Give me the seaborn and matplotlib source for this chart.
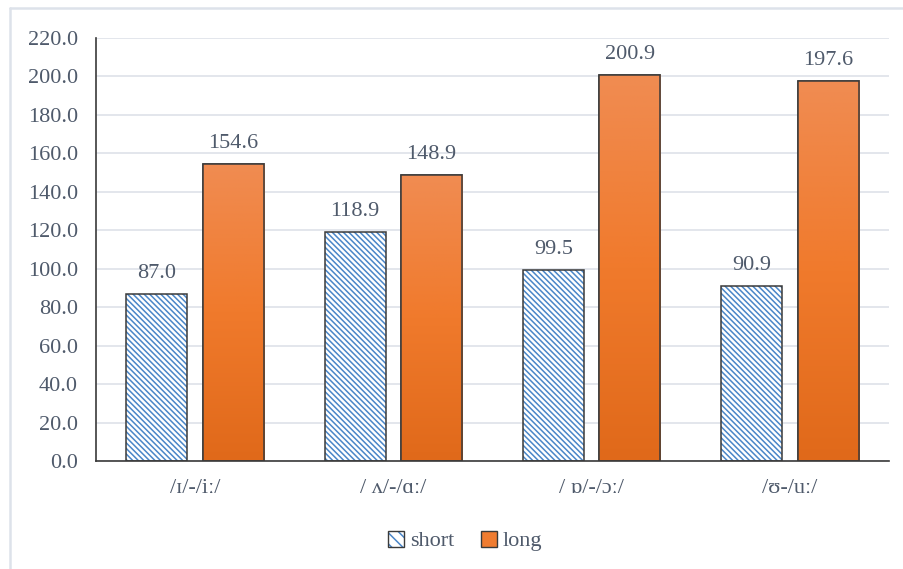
import numpy as np
import pandas as pd
import matplotlib
matplotlib.use("Agg")
import matplotlib.pyplot as plt
import matplotlib.patches as mpatches
from matplotlib.lines import Line2D
from matplotlib.colors import LinearSegmentedColormap
from matplotlib.legend_handler import HandlerTuple
import seaborn as sns

# ==========================================
# Data
# ==========================================
categories = ["/ɪ/-/iː/", "/ ʌ/-/ɑː/", "/ ɒ/-/ɔː/", "/ʊ-/uː/"]
short_vals = [87.0, 118.9, 99.5, 90.9]
long_vals = [154.6, 148.9, 200.9, 197.6]
series = ["short", "long"]

data = pd.DataFrame({
    "pair": categories * 2,
    "duration": short_vals + long_vals,
    "type": ["short"] * len(categories) + ["long"] * len(categories),
})

# ==========================================
# Style
# ==========================================
sns.set_theme(style="white")
plt.rcParams["font.family"] = ["Liberation Serif", "DejaVu Serif"]
plt.rcParams["hatch.linewidth"] = 1.1

text_color = "#4f5a6b"
edge_color = "#3a3a3a"
hatch_blue = "#4a86c8"
orange_top = "#f08c52"
orange_bot = "#e0691a"
fs = 16

fig = plt.figure(figsize=(9.04, 5.69), dpi=100)
ax = fig.add_axes([96 / 904, 1 - 461 / 569, (889 - 96) / 904, (461 - 38) / 569])

sns.barplot(
    data=data,
    x="pair",
    y="duration",
    hue="type",
    hue_order=series,
    order=categories,
    palette={"short": "white", "long": orange_bot},
    width=0.77,
    gap=0.2,
    legend=False,
    ax=ax,
)

# ==========================================
# Bar styling
# ==========================================
n = len(categories)
bars = ax.patches[: 2 * n]
short_bars = bars[:n]
long_bars = bars[n:]

cmap = LinearSegmentedColormap.from_list("org", [orange_bot, "#f07a2c", orange_top])
grad = np.linspace(0, 1, 256).reshape(-1, 1)

for p in short_bars:
    p.set_facecolor("white")
    p.set_hatch("\\" * 6)
    p.set_edgecolor(hatch_blue)
    p.set_linewidth(0)
    outline = mpatches.Rectangle((p.get_x(), p.get_y()), p.get_width(), p.get_height(),
                                 fill=False, edgecolor=edge_color, lw=1.1, zorder=3)
    ax.add_patch(outline)

for p in long_bars:
    x0, y0 = p.get_x(), p.get_y()
    w, h = p.get_width(), p.get_height()
    im = ax.imshow(grad, cmap=cmap, aspect="auto", origin="lower",
                   extent=[x0, x0 + w, y0, y0 + h], zorder=2)
    im.set_clip_path(p)
    p.set_edgecolor(edge_color)
    p.set_linewidth(1.1)
    outline = mpatches.Rectangle((x0, y0), w, h, fill=False,
                                 edgecolor=edge_color, lw=1.1, zorder=3)
    ax.add_patch(outline)

# value labels
for p, v in zip(short_bars + long_bars, short_vals + long_vals):
    ax.annotate(f"{v:.1f}", (p.get_x() + p.get_width() / 2, p.get_height()),
                xytext=(0, 11.5), textcoords="offset points",
                ha="center", va="baseline", fontsize=fs, color=text_color)

# ==========================================
# Axes
# ==========================================
ax.set_xlim(-0.5, n - 0.5)
ax.set_ylim(0, 220)
ax.set_yticks(np.arange(0, 221, 20))
ax.set_yticklabels([f"{t:.1f}" for t in np.arange(0, 221, 20)])
ax.set_xlabel("")
ax.set_ylabel("")
ax.yaxis.grid(True, color="#e1e4ea", lw=1.3)
ax.set_axisbelow(True)
ax.tick_params(axis="y", length=0, pad=13, labelsize=fs, labelcolor=text_color)
ax.tick_params(axis="x", length=0, pad=13, labelsize=fs, labelcolor=text_color)
for s in ["top", "right"]:
    ax.spines[s].set_visible(False)
for s in ["left", "bottom"]:
    ax.spines[s].set_color(edge_color)
    ax.spines[s].set_linewidth(1.2)

# ==========================================
# Legend
# ==========================================
h_short_fill = mpatches.Patch(facecolor="white", edgecolor=hatch_blue, hatch="\\\\\\",
                              lw=0)
h_short_edge = mpatches.Patch(facecolor="none", edgecolor=edge_color, lw=1.0)
h_long = mpatches.Patch(facecolor="#f07c30", edgecolor=edge_color, lw=1.0)
fig.legend(handles=[(h_short_fill, h_short_edge), h_long], labels=series,
           handler_map={tuple: HandlerTuple(ndivide=1, pad=0)},
           loc="center", bbox_to_anchor=(465 / 904, 1 - 541 / 569), ncol=2,
           frameon=False, handlelength=0.75, handleheight=0.75, handletextpad=0.25,
           columnspacing=1.2, prop={"size": fs}, labelcolor=text_color)

# faint outer frame
fig.add_artist(Line2D([10 / 904, 10 / 904], [0, 1 - 8 / 569], transform=fig.transFigure,
                      color="#dde2ea", lw=1.8))
fig.add_artist(Line2D([10 / 904, 1], [1 - 8 / 569, 1 - 8 / 569], transform=fig.transFigure,
                      color="#dde2ea", lw=1.8))

fig.savefig("out.png", dpi=100)
